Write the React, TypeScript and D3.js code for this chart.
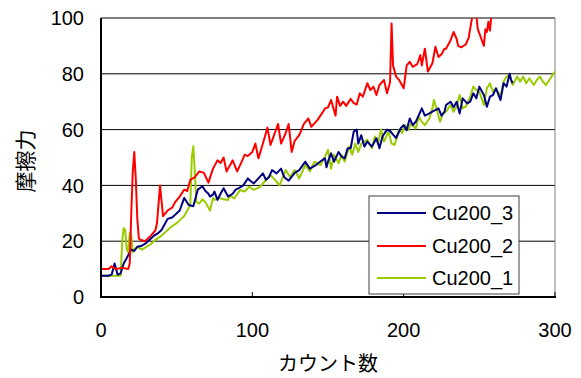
import React from "react";
import * as d3 from "d3";

const seriesNames = ["Cu200_3", "Cu200_2", "Cu200_1"];
const seriesColors = ["#000080", "#ff0000", "#99cc00"];
const xTicks = [0, 100, 200, 300];
const yTicks = [0, 20, 40, 60, 80, 100];

// Cu200_3 (blue)
const blueCounts = [0,5,7,9,11,13,15,17,18,20,22,24,27,29,31,33,35,38,40,42,44,47,49,52,55,58,61,64,67,69,71,72,74,75,77,79,81,84,87,89,91,94,97,99,101,104,107,109,111,113,116,119,121,124,128,131,135,138,142,146,148,149,150,152,154,157,159,161,163,165,167,169,170,172,174,176,179,182,184,186,189,191,193,195,198,200,202,204,206,208,212,214,217,219,223,225,227,228,231,233,235,237,239,242,244,246,248,250,253,255,257,259,261,264,266,268,270,271,272];
const blueValues = [7.6,7.6,8,12,8,8.5,12,14,15,17,16.5,18,18.4,19,20,21,22,23,24,26,28,28.5,29.5,31,35.5,33,32.5,38.5,39.7,38,37,36,36.7,37.8,34.8,37,39,36,37,38.5,39,40,42.5,41.5,40.7,42.5,44.3,42,43,45.5,44.3,46,43,41.7,44.5,45.5,48.5,46,47.3,49,49.7,46.5,48.5,51.5,48.5,52,50.3,49.7,53.3,53.3,59.3,60,55,58,53.9,55.7,53.9,56.9,53.3,57.5,60,59.5,58.2,57,60.5,61.6,59.8,64,61.6,62.8,67.6,65,65.8,66.4,67.6,65,66.4,68.8,70,68,70,65.8,71.2,69.4,70,73,71.2,75.4,72.4,68.2,71.8,72.4,74.8,70.6,76.6,75.4,80,77.8,76.6];

// Cu200_2 (red)
const redCounts = [0,5,7,10,14,18,19,20,21,22,23,24,25,26,29,33,36,37,39,41,44,47,49,52,55,57,59,62,65,68,71,74,75,77,79,81,83,85,87,90,93,95,97,100,102,104,107,110,112,114,117,119,122,124,126,128,131,134,137,139,143,146,148,150,152,155,156,158,160,162,165,167,169,171,173,176,178,180,182,184,187,189,191,192,193,195,197,200,202,204,206,209,211,212,214,216,219,221,223,225,227,228,231,233,235,236,238,241,243,245,246,248,249,251,253,254,255,256,257,258,260];
const redValues = [10,10,11,10,10.5,10,12,30,45,52,42,28,21,20.5,20,22,24,26.5,40,29,31,32,34,36,38.5,38,42,43,45,44.5,41,46,47,49,48,50,45,47,49,45,48.5,51,50.5,52,55,49.7,55,60.7,54.5,57.5,62,55,58.7,62,52,56,58,62,64,61,63.4,65.8,67.6,68,70.6,65,71.8,68.5,70,68.5,71,69.5,69,73,71.8,76.6,74.2,75.4,72.4,76,77.8,73,77,98,83,79,77.8,74.8,83,84.3,82.5,83.5,86.7,83,89,80.8,83.8,89.7,86,87,89,89,92,95,92.5,90,89.5,90.5,93,99.5,101,101,96,93,90,96,95,98.7,95.5,101,101];

// Cu200_1 (green)
const greenCounts = [0,5,10,13,14,15,16,17,18,19,20,21,22,24,27,30,33,36,40,43,46,50,53,55,57,59,60,61,62,63,65,67,69,72,74,75,78,81,84,85,88,92,95,98,101,105,108,112,115,118,122,125,128,131,135,138,141,145,148,150,152,154,157,159,161,164,166,168,170,172,176,179,181,183,185,187,190,192,194,197,199,201,203,205,208,210,212,214,217,219,220,222,224,226,228,231,233,235,237,239,241,244,246,248,250,253,255,257,259,261,264,266,268,270,272,275,277,279,281,283,286,288,290,292,294,297,300];
const greenValues = [7.6,7.6,7.6,7.6,20,24.7,24,17,16,23,22,16,17,18,17,18,19,20.5,22,23.5,25,26.5,28,29,31,33,50,54,45,34,33.5,35,34,31,35.5,34.8,35.5,35,34.8,36.5,35.3,38.4,37.8,39.5,38.4,39.5,41.3,43.7,42,40,45.5,43,45.5,42.5,47.3,45,48.5,47.3,50.3,52.7,46,51,48,51,48.5,53.9,51,55,52,55,56.3,53.3,57.5,55,60,55.7,59.3,55,54.5,60,58.8,61.6,59.8,62.2,60.4,64.6,62.8,61.6,64,67.6,70.6,67,62.8,65.8,66.4,68.8,66.4,68.2,72.4,67.6,68.2,71.8,75.4,74.2,73.6,68.8,74.8,76.6,73.6,74.8,71.8,77.2,79,79.6,76,79,77.2,79,76.6,78.4,76,77.8,79,77.2,76,78.4,80.8];

const allCounts = [blueCounts, redCounts, greenCounts];
const allValues = [blueValues, redValues, greenValues];
// draw order: green below, then blue, then red
const drawOrder = [2, 0, 1];

const FONT = "'Liberation Sans', Arial, sans-serif";
const CJK = "'Noto Sans CJK JP', sans-serif";

export default function App() {
  const W = 581, H = 378;
  const left = 101, right = 555, top = 18, bottom = 297;
  const x = d3.scaleLinear().domain([0, 300]).range([left, right]);
  const y = d3.scaleLinear().domain([0, 100]).range([bottom, top]);

  const lineGen = d3
    .line<[number, number]>()
    .x((d) => x(d[0]))
    .y((d) => y(d[1]));

  const paths = allCounts.map((cs, i) =>
    lineGen(cs.map((c, j) => [c, allValues[i][j]] as [number, number])) || ""
  );

  const legendX = 369, legendY = 196, legendW = 150, legendH = 98;
  const rowY = [213, 246, 278];

  return (
    <svg width={W} height={H} style={{ position: "absolute", left: 0, top: 0, background: "#fff" }}>
      <defs>
        <clipPath id="plotClip">
          <rect x={left} y={top} width={right - left} height={bottom - top} />
        </clipPath>
      </defs>
      <rect x={0} y={0} width={W} height={H} fill="#fff" />
      {/* gridlines */}
      {yTicks.filter((t) => t > 0 && t < 100).map((t) => (
        <line key={t} x1={left} x2={right} y1={y(t)} y2={y(t)} stroke="#000" strokeWidth={1} />
      ))}
      {/* frame */}
      <line x1={left} x2={right} y1={top} y2={top} stroke="#000" strokeWidth={1} />
      <line x1={right} x2={right} y1={top} y2={bottom} stroke="#808080" strokeWidth={1} />
      {/* series */}
      <g clipPath="url(#plotClip)">
        {drawOrder.map((i) => (
          <path key={i} d={paths[i]} fill="none" stroke={seriesColors[i]} strokeWidth={2} strokeLinejoin="round" />
        ))}
      </g>
      {/* axes */}
      <line x1={left} x2={left} y1={top} y2={bottom + 1} stroke="#000" strokeWidth={2} />
      <line x1={left - 1} x2={right + 1} y1={bottom} y2={bottom} stroke="#000" strokeWidth={2} />
      {xTicks.map((t) => (
        <line key={t} x1={x(t)} x2={x(t)} y1={bottom} y2={bottom - 5} stroke="#000" strokeWidth={1} />
      ))}
      {/* y tick labels */}
      {yTicks.map((t) => (
        <text key={t} x={84} y={y(t)} dy="0.36em" textAnchor="end" fontFamily={FONT} fontSize={20} fill="#000">
          {t}
        </text>
      ))}
      {/* x tick labels */}
      {xTicks.map((t) => (
        <text key={t} x={x(t)} y={337} textAnchor="middle" fontFamily={FONT} fontSize={20} fill="#000">
          {t}
        </text>
      ))}
      {/* axis titles */}
      <text x={328} y={364} dy="0.36em" textAnchor="middle" fontFamily={CJK} fontSize={20} fill="#000">
        カウント数
      </text>
      <text transform="translate(25,161) rotate(-90)" textAnchor="middle" dy="0.36em" fontFamily={CJK} fontSize={21} fill="#000">
        摩擦力
      </text>
      {/* legend */}
      <rect x={legendX} y={legendY} width={legendW} height={legendH} fill="#fff" stroke="#404040" strokeWidth={1} />
      {seriesNames.map((n, i) => (
        <g key={n}>
          <line x1={377} x2={426} y1={rowY[i]} y2={rowY[i]} stroke={seriesColors[i]} strokeWidth={2} />
          <text x={432} y={rowY[i]} dy="0.36em" fontFamily={FONT} fontSize={20} fill="#000">
            {n}
          </text>
        </g>
      ))}
    </svg>
  );
}
